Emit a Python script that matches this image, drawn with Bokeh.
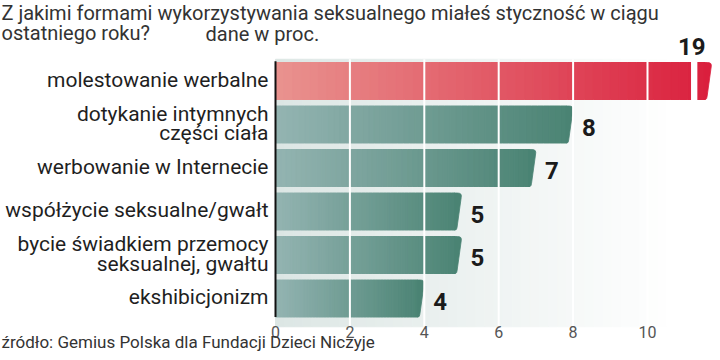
import numpy as np
from bokeh.plotting import figure
from bokeh.models import Range1d, ColumnDataSource
from bokeh.embed import file_html
from bokeh.resources import INLINE
from bokeh.core.properties import value

# ---------------- data ----------------
categories = [
    "molestowanie werbalne",
    "dotykanie intymnych\nczęści ciała",
    "werbowanie w Internecie",
    "współżycie seksualne/gwałt",
    "bycie świadkiem przemocy\nseksualnej, gwałtu",
    "ekshibicjonizm",
]
values = [19, 8, 7, 5, 5, 4]
x_ticks = [0, 2, 4, 6, 8, 10]
x_tick_labels = ["0", "2", "4", "6", "8", "10"]
title_line1 = "Z jakimi formami wykorzystywania seksualnego miałeś styczność w ciągu"
title_line2 = "ostatniego roku?"
unit_note = "dane w proc."
source_note = "źródło: Gemius Polska dla Fundacji Dzieci Niczyje"

# ---------------- style / geometry ----------------
W, H = 712, 352
X0_PX = 275.0          # pixel position of value 0
PX_X = 37.2            # pixels per value unit
Y0_PX = 80.5           # pixel centre of first row
ROW_PX = 43.5          # pixels per row
X_START, X_END = -X0_PX / PX_X, (W - X0_PX) / PX_X
Y_TOP, Y_BOT = -Y0_PX / ROW_PX, (H - Y0_PX) / ROW_PX
CAP = 11.72            # over-range bars are cut here
BREAK = (11.17, 11.34)
BAR_H = 37 / ROW_PX
PANEL_TOP, PANEL_BOT = -0.5, 5.65
FONT = "Roboto"
CAP_MID = 0.355        # baseline -> middle offset, in em

RED0, RED1 = "#e9938f", "#da1f3d"
TEAL0, TEAL1 = "#94b4b2", "#4a8373"
BG0 = "#dce6e4"


def rgb(h):
    h = h.lstrip("#")
    return tuple(int(h[i:i + 2], 16) for i in (0, 2, 4))


def mix(c0, c1, t):
    a, b = rgb(c0), rgb(c1)
    t = max(0.0, min(1.0, t))
    return "#%02x%02x%02x" % tuple(int(round(a[k] + (b[k] - a[k]) * t)) for k in range(3))


def dx(px):  # pixel offset -> value units
    return px / PX_X


def dy(px):  # pixel offset -> row units
    return px / ROW_PX


def px_x(px):  # absolute pixel -> data x
    return (px - X0_PX) / PX_X


def px_y(px):  # absolute pixel -> data y
    return (px - Y0_PX) / ROW_PX


def mid_from_base(base_px, size):  # baseline pixel -> text middle pixel
    return base_px - CAP_MID * size


p = figure(width=W, height=H, output_backend="svg", toolbar_location=None, title=None,
           x_range=Range1d(X_START, X_END), y_range=Range1d(Y_BOT, Y_TOP),
           x_axis_type=None, y_axis_type=None, tools="",
           min_border_left=0, min_border_right=0, min_border_top=0, min_border_bottom=0)
p.outline_line_color = None
p.background_fill_color = "white"
p.border_fill_color = "white"

# background panel gradient
N_BG = 48
edges = np.linspace(0, X_END, N_BG + 1)
bg = dict(left=edges[:-1], right=edges[1:],
          top=[PANEL_TOP] * N_BG, bottom=[PANEL_BOT] * N_BG,
          color=[mix(BG0, "#ffffff", ((a + b) / 2) / 10.8) for a, b in zip(edges[:-1], edges[1:])])
p.quad(left="left", right="right", top="top", bottom="bottom", fill_color="color",
       line_color="color", line_width=1, source=ColumnDataSource(bg))

# bars: gradient strips + slanted rounded end cap
N_SEG = 50
seg = dict(left=[], right=[], top=[], bottom=[], color=[])
cap_xs, cap_ys, cap_col = [], [], []
end_pts = [(-4.0, 0.0), (-2.0, 0.3), (-0.7, 1.1), (-0.15, 2.6), (-0.3, 4.5),
           (-4.4, 34.0), (-4.9, 36.0), (-5.8, 37.0), (-7.0, 37.0)]
for i, v in enumerate(values):
    L = min(v, CAP)
    c0, c1 = (RED0, RED1) if i == 0 else (TEAL0, TEAL1)
    top, bot = i - BAR_H / 2, i + BAR_H / 2
    body_end = L - dx(6.5)
    e = np.linspace(0, body_end, N_SEG + 1)
    for a, b in zip(e[:-1], e[1:]):
        seg["left"].append(a); seg["right"].append(b)
        seg["top"].append(top); seg["bottom"].append(bot)
        seg["color"].append(mix(c0, c1, ((a + b) / 2) / L))
    xs = [body_end - dx(0.5)] + [L + dx(u) for u, w in end_pts] + [body_end - dx(0.5)]
    ys = [top] + [top + dy(w) for u, w in end_pts] + [bot]
    cap_xs.append(xs); cap_ys.append(ys); cap_col.append(c1)

p.quad(left="left", right="right", top="top", bottom="bottom", fill_color="color",
       line_color="color", line_width=1, source=ColumnDataSource(seg))
p.patches(xs=cap_xs, ys=cap_ys, fill_color=cap_col, line_color=cap_col, line_width=0.8)

# break in over-range bars
broken = [i for i, v in enumerate(values) if v > CAP]
p.quad(left=[BREAK[0]] * len(broken), right=[BREAK[1]] * len(broken),
       top=[i - BAR_H / 2 - 0.02 for i in broken], bottom=[i + BAR_H / 2 + 0.02 for i in broken],
       fill_color="white", line_color=None)

# white grid lines over the bars
grid_x = [t for t in x_ticks if t != 0]
p.segment(x0=grid_x, y0=[PANEL_TOP] * len(grid_x), x1=grid_x, y1=[PANEL_BOT] * len(grid_x),
          line_color="white", line_width=2)

# zero line
p.segment(x0=[0], y0=[-BAR_H / 2 - dy(1.3)], x1=[0], y1=[len(values) - 1 + BAR_H / 2],
          line_color="#111111", line_width=2)

# value labels
VAL_SIZE = 24
for i, v in enumerate(values):
    if v > CAP:
        x = 11.56
        y = i - BAR_H / 2 - dy(7 + CAP_MID * VAL_SIZE)
        al = "right"
    else:
        x, y, al = v + dx(9), i + dy(2.5), "left"
    p.text(x=[x], y=[y], text=[str(v)], text_align=al, text_baseline="middle",
           text_font=value(FONT), text_font_style="bold", text_font_size=f"{VAL_SIZE}px",
           text_color="#1b1b1b")

# category labels (one text per line, right aligned left of the zero line)
CAT_SIZE = 21
LINE_PX = 19.3
cx, cy, ct = [], [], []
for i, c in enumerate(categories):
    lines = c.split("\n")
    k = len(lines)
    off = 6.0 if k == 1 else 6.5
    for j, ln in enumerate(lines):
        base = off + (j - (k - 1) / 2) * LINE_PX
        cx.append(px_x(268)); cy.append(i + dy(base - CAP_MID * CAT_SIZE)); ct.append(ln)
p.text(x=cx, y=cy, text=ct, text_align="right", text_baseline="middle",
       text_font=value(FONT), text_font_size=f"{CAT_SIZE}px", text_color="#1f1f1f")

# x tick labels
p.text(x=x_ticks, y=[px_y(mid_from_base(337, 16))] * len(x_ticks), text=x_tick_labels,
       text_align="center", text_baseline="middle", text_font=value(FONT),
       text_font_size="16px", text_color="#555555")

# title, unit note, source
p.text(x=[px_x(1), px_x(1), px_x(205), px_x(1)],
       y=[px_y(mid_from_base(19.5, 20)), px_y(mid_from_base(40, 20)),
          px_y(mid_from_base(40.5, 20)), px_y(mid_from_base(347.5, 17))],
       text=[title_line1, title_line2, unit_note, source_note],
       text_align="left", text_baseline="middle", text_font=value(FONT),
       text_font_size=["20px", "20px", "20px", "17px"], text_color="#333333")

open("out.html", "w").write(file_html(p, INLINE))
